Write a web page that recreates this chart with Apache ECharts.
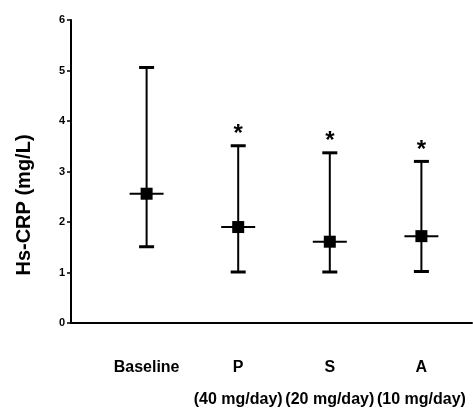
<!DOCTYPE html>
<html>
<head>
<meta charset="utf-8">
<script src="https://cdn.jsdelivr.net/npm/echarts@6/dist/echarts.min.js"></script>
<style>
html,body{margin:0;padding:0;background:#fff;}
#chart{width:473px;height:408px;}
</style>
</head>
<body>
<div id="chart"></div>
<script>
// Data
const categories = ['Baseline', 'P', 'S', 'A'];
const doses = ['', '(40 mg/day)', '(20 mg/day)', '(10 mg/day)'];
const meanValues = [2.56, 1.90, 1.61, 1.72];
const lowValues = [1.51, 1.01, 1.01, 1.02];
const highValues = [5.06, 3.51, 3.37, 3.20];
const significance = ['', '*', '*', '*'];
const yTicks = [0, 1, 2, 3, 4, 5, 6];

const FONT = '"Liberation Sans", Arial, Helvetica, sans-serif';
const chart = echarts.init(document.getElementById('chart'), null, {renderer: 'canvas'});

const seriesData = categories.map((c, i) => [i, meanValues[i], lowValues[i], highValues[i]]);

function renderItem(params, api) {
  const idx = api.value(0);
  const x = api.coord([idx, 0])[0];
  const yMean = api.coord([idx, api.value(1)])[1];
  const yLow = api.coord([idx, api.value(2)])[1];
  const yHigh = api.coord([idx, api.value(3)])[1];
  const black = '#000';
  const children = [
    {type: 'line', shape: {x1: x, y1: yHigh, x2: x, y2: yLow}, style: {stroke: black, lineWidth: 2}},
    {type: 'line', shape: {x1: x - 7.5, y1: yHigh, x2: x + 7.5, y2: yHigh}, style: {stroke: black, lineWidth: 3}},
    {type: 'line', shape: {x1: x - 7.5, y1: yLow, x2: x + 7.5, y2: yLow}, style: {stroke: black, lineWidth: 3}},
    {type: 'line', shape: {x1: x - 17, y1: yMean, x2: x + 17, y2: yMean}, style: {stroke: black, lineWidth: 2}},
    {type: 'rect', shape: {x: x - 6, y: yMean - 6, width: 12, height: 12}, style: {fill: black}}
  ];
  const s = significance[params.dataIndex];
  if (s) {
    children.push({type: 'text', x: x, y: yHigh - 11,
      style: {text: s, font: 'bold 24px ' + FONT, fill: black, align: 'center', verticalAlign: 'middle'}});
  }
  return {type: 'group', children: children};
}

const option = {
  animation: false,
  backgroundColor: '#fff',
  grid: [
    {left: 71, right: 1, top: 20, bottom: 85, containLabel: false, outerBoundsMode: 'none'},
    {left: 100.8, right: 5.8, top: 20, bottom: 85, containLabel: false, outerBoundsMode: 'none'}
  ],
  xAxis: [
    {gridIndex: 0, type: 'value', min: 0, max: 1,
     axisLine: {show: true, lineStyle: {color: '#000', width: 2}},
     axisTick: {show: false}, axisLabel: {show: false}, splitLine: {show: false}},
    {gridIndex: 1, type: 'category', data: categories, boundaryGap: true,
     axisLine: {show: false}, axisTick: {show: false}, splitLine: {show: false},
     axisLabel: {show: true, interval: 0, margin: 29, lineHeight: 32,
       formatter: (v, i) => doses[i] ? v + '\n' + doses[i] : v,
       color: '#000', fontWeight: 'bold', fontSize: 16, fontFamily: FONT}}
  ],
  yAxis: [
    {gridIndex: 0, type: 'value', min: yTicks[0], max: yTicks[yTicks.length - 1], interval: 1,
     axisLine: {show: true, lineStyle: {color: '#000', width: 2}},
     axisTick: {show: true, inside: false, length: 4, lineStyle: {color: '#000', width: 1.5}},
     splitLine: {show: false},
     axisLabel: {margin: 6, color: '#000', fontWeight: 'bold', fontSize: 11, fontFamily: FONT}},
    {gridIndex: 1, type: 'value', min: yTicks[0], max: yTicks[yTicks.length - 1], show: false, splitLine: {show: false}}
  ],
  graphic: [
    {type: 'text', x: 24, y: 205, rotation: Math.PI / 2,
     style: {text: 'Hs-CRP (mg/L)', font: 'bold 20px ' + FONT, fill: '#000', align: 'center', verticalAlign: 'middle'}}
  ],
  series: [
    {type: 'custom', xAxisIndex: 1, yAxisIndex: 1, renderItem: renderItem, data: seriesData}
  ]
};
chart.setOption(option);
</script>
</body>
</html>
